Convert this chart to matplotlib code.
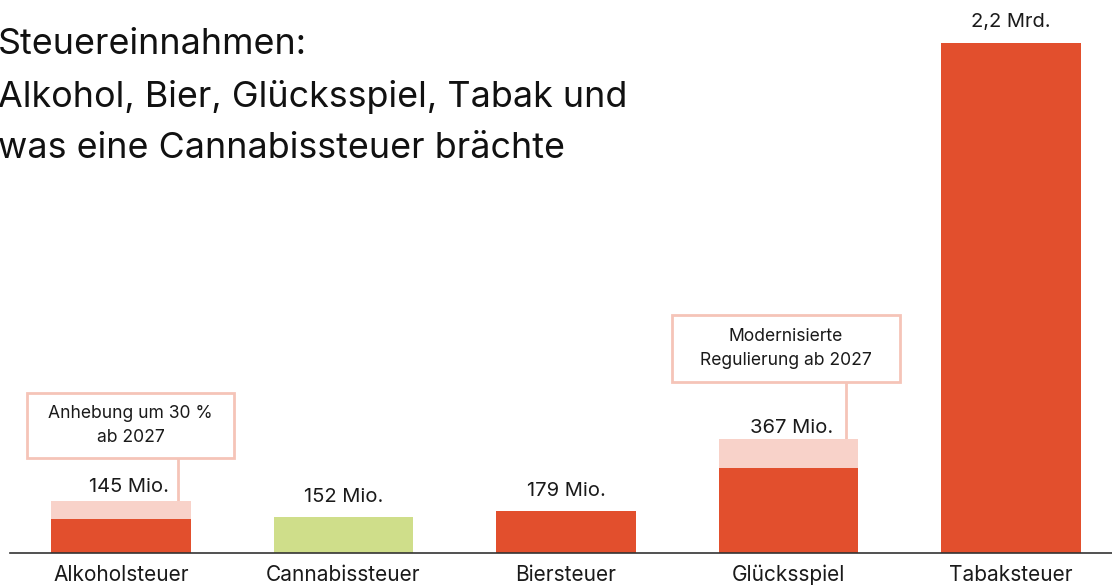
import matplotlib.pyplot as plt
from matplotlib.patches import Rectangle

plt.rcParams['font.family'] = ['Inter', 'DejaVu Sans']

# Data (Mio. Euro)
categories = ["Alkoholsteuer", "Cannabissteuer", "Biersteuer", "Glücksspiel", "Tabaksteuer"]
current = [145, 152, 179, 367, 2200]
extra = [78, 0, 0, 124, 0]          # zusätzliche Einnahmen (hell)
value_labels = ["145 Mio.", "152 Mio.", "179 Mio.", "367 Mio.", "2,2 Mrd."]
notes = {0: "Anhebung um 30 %\nab 2027", 3: "Modernisierte\nRegulierung ab 2027"}

red = "#E24F2D"
pink = "#F8D2C9"
green = "#CFDE8A"
box_edge = "#F5C4B8"
colors = [red, green, red, red, red]

W, H = 1112, 586
fig = plt.figure(figsize=(W / 100, H / 100), dpi=100)

# axes placed so bars land where they are in the reference
base_px = 552.7
top_px = 43
x0_px, step_px = 121, 222.5
left_px = 9.75
ax = fig.add_axes([left_px / W, (H - base_px) / H, (W - left_px) / W, (base_px - top_px) / H])
ax.set_xlim(-0.5, (W - x0_px) / step_px)
ax.set_ylim(0, 2200)

x = range(len(categories))
ax.bar(x, current, width=0.625, color=colors, zorder=2)
ax.bar(x, extra, bottom=current, width=0.625, color=pink, zorder=2)

for s in ["top", "right", "left"]:
    ax.spines[s].set_visible(False)
ax.spines["bottom"].set_color("#333333")
ax.spines["bottom"].set_linewidth(1.2)
ax.set_yticks([])
ax.set_xticks(list(x))
ax.set_xticklabels(categories, fontsize=15, color="#1a1a1a")
ax.tick_params(axis="x", length=0, pad=8.5)

# value labels
dx = [0.036, 0, 0, 0.016, 0]
dy = [9, 15, 15, 6, 16]
for i, lab in enumerate(value_labels):
    top = current[i] + extra[i]
    ax.annotate(lab, (i + dx[i], top), xytext=(0, dy[i] * 0.72), textcoords="offset points",
                ha="center", va="baseline", fontsize=14.5, color="#1a1a1a", zorder=3)

# annotation boxes with connectors
boxes = {0: (-0.422, 0.508, 408.7, 689.3, 0.256), 3: (2.476, 3.501, 736.8, 1026, 3.258)}
for i, (bx0, bx1, by0, by1, cx) in boxes.items():
    ax.add_patch(Rectangle((bx0, by0), bx1 - bx0, by1 - by0, facecolor="white",
                           edgecolor=box_edge, lw=2, clip_on=False, zorder=3))
    ax.plot([cx, cx], [current[i] + extra[i], by0], color=box_edge, lw=2, zorder=1)
    ax.text((bx0 + bx1) / 2, (by0 + by1) / 2, notes[i], ha="center", va="center",
            fontsize=12.6, color="#1a1a1a", linespacing=1.5, zorder=4)

title_lines = ["Steuereinnahmen:", "Alkohol, Bier, Glücksspiel, Tabak und", "was eine Cannabissteuer brächte"]
for line, ypx in zip(title_lines, [45, 97, 148]):
    fig.text(-0.002, 1 - ypx / H, line, fontsize=25.8, va="center", ha="left", color="#111111")

fig.savefig("out.png", dpi=100)
